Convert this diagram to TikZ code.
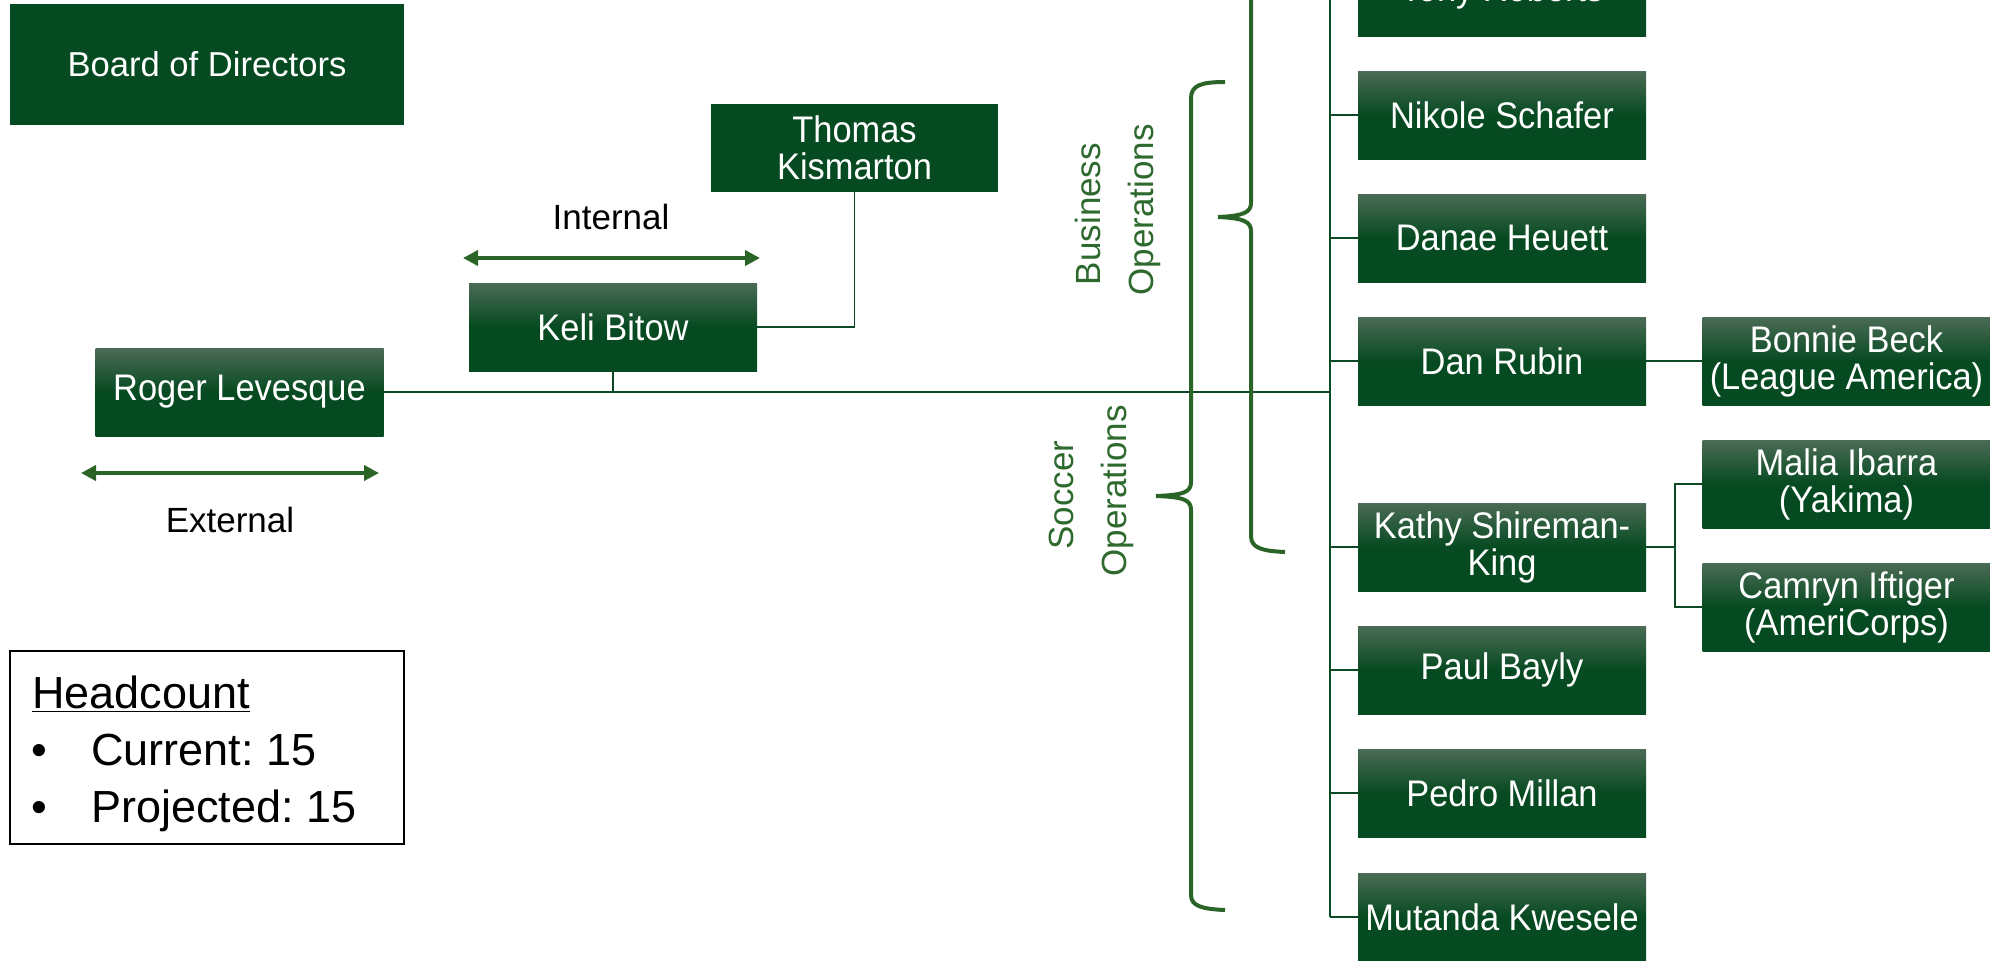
\documentclass[tikz,border=0pt]{standalone}
\usepackage{fontspec}
\setmainfont{Liberation Sans}
\newfontfamily\boxfont[FakeStretch=0.93]{Liberation Sans}
\usetikzlibrary{arrows.meta}
\definecolor{boxdark}{HTML}{064A21}
\definecolor{boxlight}{HTML}{4B6B55}
\definecolor{bracegreen}{HTML}{2B6427}
\definecolor{labelgreen}{HTML}{2E6A2E}
\definecolor{linegreen}{HTML}{0C4A26}
\frenchspacing
\begin{document}
\begin{tikzpicture}[x=0.5pt,y=-0.5pt,
  gbox/.style={rectangle, minimum width=144pt, minimum height=44pt, inner sep=0pt,
    top color=boxlight, bottom color=boxdark, middle color=boxdark,
    text=white, align=center, font=\boxfont\fontsize{18.5}{18.5}\selectfont},
  sbox/.style={rectangle, inner sep=0pt, fill=boxdark, text=white, align=center},
  conn/.style={draw=linegreen, line width=0.8pt},
  garrow/.style={draw=bracegreen, line width=2pt, {Triangle[length=7.5pt,width=7.5pt]}-{Triangle[length=7.5pt,width=7.5pt]}},
  brace/.style={draw=bracegreen, line width=2pt},
  sidelabel/.style={rotate=90, anchor=base, inner sep=0pt, text=labelgreen, font=\fontsize{17.5}{20}\selectfont},
  plainlabel/.style={inner sep=0pt, font=\fontsize{17.5}{20}\selectfont},
  hctext/.style={inner sep=0pt, anchor=base west, font=\fontsize{22.5}{27}\selectfont},
  hcbullet/.style={inner sep=0pt, anchor=base, font=\fontsize{22.5}{27}\selectfont}]
\clip (0,0) rectangle (1990,960);
\fill[white] (0,0) rectangle (1990,960);

% left part
\node[sbox, minimum width=197pt, minimum height=60.5pt, font=\fontsize{17.3}{20}\selectfont] (board) at (207,64) {Board of Directors};
\node[sbox, minimum width=143.5pt, minimum height=44pt, font=\boxfont\fontsize{18.5}{18.5}\selectfont] (thomas) at (854.5,148) {Thomas\\Kismarton};
\node[gbox] (keli) at (613,327) {Keli Bitow};
\node[gbox] (roger) at (239.5,392) {Roger Levesque};

\coordinate (ia1) at (463,258);
\coordinate (ia2) at (760,258);
\draw[garrow] (ia1) -- (ia2);
\node[plainlabel] (internal) at (611,217) {Internal};

\coordinate (ea1) at (81,473);
\coordinate (ea2) at (379,473);
\draw[garrow] (ea1) -- (ea2);
\node[plainlabel] (external) at (230,520) {External};

% headcount
\node[draw=black, line width=0.8pt, minimum width=197pt, minimum height=96.5pt, inner sep=0pt] (headbox) at (207,747.5) {};
\node[hctext] (hchead) at (32,708) {\underline{Headcount}};
\node[hcbullet] (b1) at (39,765) {•};
\node[hctext] (hccur) at (91,765) {Current: 15};
\node[hcbullet] (b2) at (39,822) {•};
\node[hctext] (hcproj) at (91,822) {Projected: 15};

% right column
\node[gbox] (tony) at (1502,-8) {Tony Roberts};
\node[gbox] (nikole) at (1502,115) {Nikole Schafer};
\node[gbox] (danae) at (1502,238) {Danae Heuett};
\node[gbox] (dan) at (1502,361) {Dan Rubin};
\node[gbox] (kathy) at (1502,547) {Kathy Shireman-\\King};
\node[gbox] (paul) at (1502,670) {Paul Bayly};
\node[gbox] (pedro) at (1502,793) {Pedro Millan};
\node[gbox] (mutanda) at (1502,917) {Mutanda Kwesele};

\node[gbox] (bonnie) at (1846.5,361) {Bonnie Beck\\(League America)};
\node[gbox] (malia) at (1846.5,484) {Malia Ibarra\\(Yakima)};
\node[gbox] (camryn) at (1846.5,607) {Camryn Iftiger\\(AmeriCorps)};

% connectors
\coordinate (vx) at (1330,0);
\coordinate (kx) at (1675,0);
\draw[conn] (roger.east) -- (roger.east -| vx);
\draw[conn] (keli.south) -- (keli.south |- roger.east);
\draw[conn] (keli.east) -| (thomas.south);
\draw[conn] (tony.west -| vx) -- (mutanda.west -| vx);
\foreach \b in {tony,nikole,danae,dan,kathy,paul,pedro,mutanda}{
  \draw[conn] (\b.west) -- (\b.west -| vx);
}
\draw[conn] (dan.east) -- (bonnie.west);
\draw[conn] (kathy.east) -- (kathy.east -| kx);
\draw[conn] (malia.west) -- (malia.west -| kx) -- (camryn.west -| kx) -- (camryn.west);

% braces
\draw[brace] (1285,-118) .. controls (1262,-118) and (1251,-114) .. (1251,-100)
  -- (1251,203) .. controls (1251,212) and (1244,216) .. (1218,217)
  .. controls (1244,218) and (1251,222) .. (1251,231)
  -- (1251,536) .. controls (1251,548) and (1262,551) .. (1285,552);
\draw[brace] (1225,82) .. controls (1202,82) and (1191,85) .. (1191,98)
  -- (1191,482) .. controls (1191,492) and (1184,495) .. (1156,496)
  .. controls (1184,497) and (1191,500) .. (1191,510)
  -- (1191,895) .. controls (1191,906) and (1202,909) .. (1225,910);

\node[sidelabel] (bus1) at (1100,214) {Business};
\node[sidelabel] (bus2) at (1153,210) {Operations};
\node[sidelabel] (soc1) at (1073,495) {Soccer};
\node[sidelabel] (soc2) at (1126,491) {Operations};
\end{tikzpicture}
\end{document}
